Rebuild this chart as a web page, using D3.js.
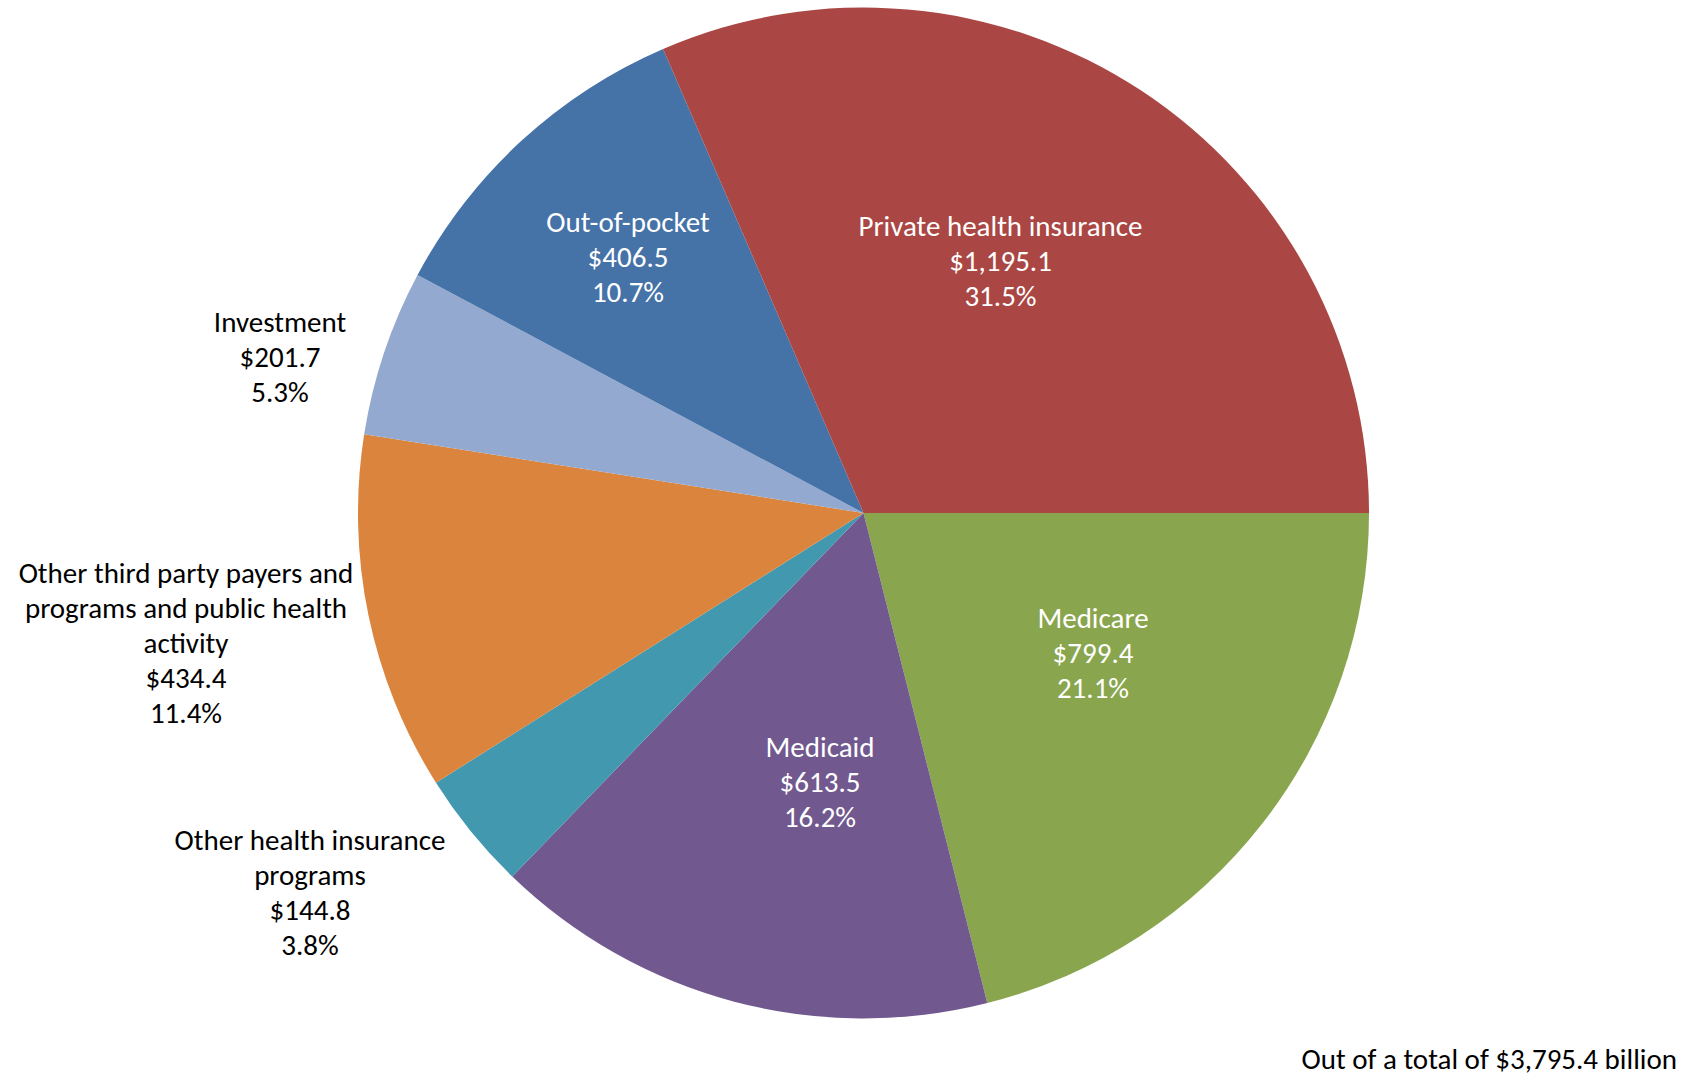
<!DOCTYPE html>
<html>
<head>
<meta charset="utf-8">
<script src="https://cdn.jsdelivr.net/npm/d3@7"></script>
<style>
	html, body { margin: 0; padding: 0; background: #fff; }
	svg { display: block; }
	.lbl { font-family: Carlito, Calibri, Lato, sans-serif; font-size: 29px; }
</style>
</head>
<body>
<svg id="chart" width="1688" height="1080"></svg>
<script>
// payer names, clockwise from 3 o'clock
const payers = [
	'Medicare',
	'Medicaid',
	'Other health insurance programs',
	'Other third party payers and programs and public health activity',
	'Investment',
	'Out-of-pocket',
	'Private health insurance'
];
const spending = [799.4, 613.5, 144.8, 434.4, 201.7, 406.5, 1195.1]; // $ billions
const shares = ['21.1%', '16.2%', '3.8%', '11.4%', '5.3%', '10.7%', '31.5%'];
const sliceColors = ['#89A54E', '#71588F', '#4198AF', '#DB843D', '#93A9CF', '#4572A7', '#AA4643'];
const totalNote = 'Out of a total of $3,795.4 billion';

// label wrapping as in the original
const nameLines = {
	'Other health insurance programs': ['Other health insurance', 'programs'],
	'Other third party payers and programs and public health activity':
		['Other third party payers and', 'programs and public health', 'activity']
};

const W = 1688, H = 1080;
const cx = 863.5, cy = 513, R = 505.5;
const lineH = 35;

// first-line baseline of each label, relative to pie centre
const labelAt = {
	'Medicare': [229.5, 115, true],
	'Medicaid': [-43.5, 243.7, true],
	'Other health insurance programs': [-553.5, 337, false],
	'Other third party payers and programs and public health activity': [-677.5, 70, false],
	'Investment': [-583.5, -181.3, false],
	'Out-of-pocket': [-235.5, -281.3, true],
	'Private health insurance': [137, -277, true]
};

const svg = d3.select('#chart');

const data = payers.map((p, i) => ({name: p, value: spending[i], share: shares[i], color: sliceColors[i]}));

const pie = d3.pie()
	.sort(null)
	.value(d => d.value)
	.startAngle(Math.PI / 2)
	.endAngle(Math.PI / 2 + 2 * Math.PI);

const arc = d3.arc().innerRadius(0).outerRadius(R);

const gPie = svg.append('g')
	.attr('class', 'g_pie')
	.attr('transform', 'translate(' + cx + ',' + cy + ')');

gPie.selectAll('.slice')
	.data(pie(data)).enter()
	.append('path')
	.attr('class', 'slice')
	.attr('d', arc)
	.attr('fill', d => d.data.color);

const fmt = d3.format(',.1f');

const gLbls = gPie.selectAll('.g_lbl')
	.data(data).enter()
	.append('text')
	.attr('class', 'lbl')
	.attr('text-anchor', 'middle')
	.attr('fill', d => labelAt[d.name][2] ? '#fff' : '#000')
	.attr('transform', d => 'translate(' + labelAt[d.name][0] + ',' + labelAt[d.name][1] + ')');

gLbls.each(function(d) {
	const lines = (nameLines[d.name] || [d.name]).concat(['$' + fmt(d.value), d.share]);
	d3.select(this).selectAll('tspan')
		.data(lines).enter()
		.append('tspan')
		.attr('x', 0)
		.attr('y', (l, i) => i * lineH)
		.text(l => l);
});

svg.append('text')
	.attr('class', 'lbl')
	.attr('x', 1677)
	.attr('y', 1069)
	.attr('text-anchor', 'end')
	.attr('fill', '#000')
	.text(totalNote);
</script>
</body>
</html>
